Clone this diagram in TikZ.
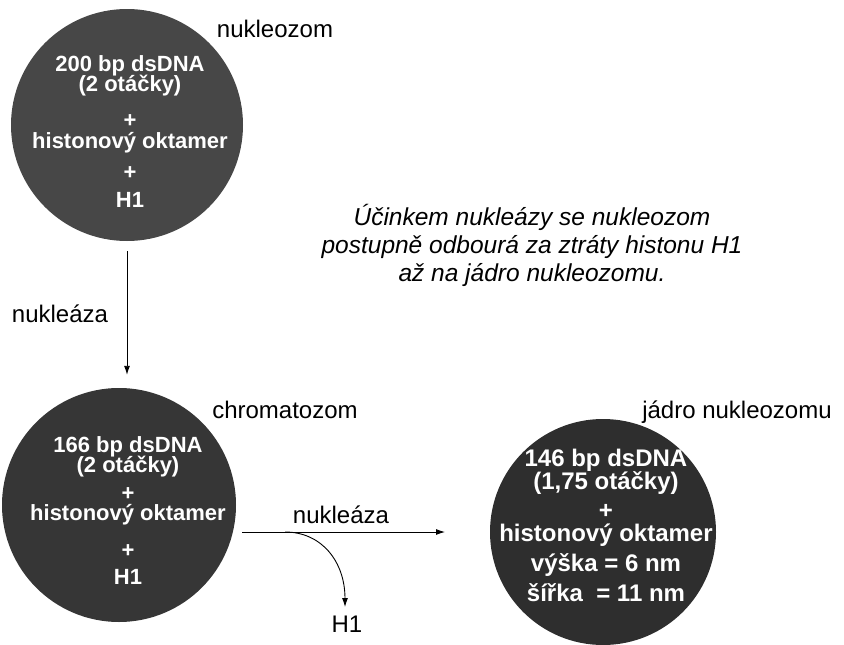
\documentclass[tikz,border=0pt]{standalone}
\usepackage{fontspec}
\setmainfont{Liberation Sans}
\usetikzlibrary{arrows.meta}

\definecolor{discone}{HTML}{474747}
\definecolor{disctwo}{HTML}{363636}
\definecolor{discthree}{HTML}{2E2E2E}

\begin{document}
\begin{tikzpicture}[x=1pt,y=-1pt,
  disc/.style={circle, draw=none, inner sep=0pt, minimum size=#1},
  intext/.style={text=white, align=center, inner sep=0pt, anchor=north,
                 font=\bfseries\fontsize{22}{22}\selectfont},
  bigtext/.style={intext, font=\bfseries\fontsize{24}{24}\selectfont},
  lbl/.style={font=\fontsize{24}{24}\selectfont, inner sep=0pt, anchor=base},
  note/.style={font=\itshape\fontsize{24.5}{28}\selectfont, align=center,
               inner sep=0pt, anchor=north},
  arr/.style={line width=0.9pt, -{Latex[length=9pt,width=6pt]}},
]
\useasboundingbox (0,0) rectangle (844,645);

% nucleosome
\node[disc=232pt, fill=discone] (c1) at (127,125) {};
\node[intext] (t1) at (130,55)
  {200 bp dsDNA\\[-2pt](2 otáčky)\\[14pt]+\\[-1pt]histonový oktamer\\[9pt]+\\[6pt]H1};
\node[lbl] (n1) at (275,37) {nukleozom};

% chromatosome
\node[disc=234pt, fill=disctwo] (c2) at (119,505) {};
\node[intext] (t2) at (128,436)
  {166 bp dsDNA\\[-2pt](2 otáčky)\\[6pt]+\\[-2pt]histonový oktamer\\[15pt]+\\[5pt]H1};
\node[lbl] (n2) at (285,418) {chromatozom};

% nucleosome core
\node[disc=226pt, fill=discthree] (c3) at (603,532) {};
\node[bigtext] (t3) at (606,449)
  {146 bp dsDNA\\[-1pt](1,75 otáčky)\\[5pt]+\\[-1pt]histonový oktamer\\[6pt]výška = 6 nm\\[6pt]šířka~ = 11 nm};
\node[lbl] (n3) at (737,418) {jádro nukleozomu};

% explanatory note
\node[note] (nt) at (532,204)
  {Účinkem nukleázy se nukleozom\\postupně odbourá za ztráty histonu H1\\až na jádro nukleozomu.};

% first digestion step
\draw[arr, shorten <=10pt, shorten >=13pt] (c1.south) -- (c1.south |- c2.north);
\node[lbl] (e1) at (60,322) {nukleáza};

% second digestion step with release of H1
\coordinate (hs) at (242,532);
\coordinate (he) at (445,532);
\coordinate (br) at (285,532);
\coordinate (htip) at (345,607);
\draw[arr] (hs) -- (he);
\node[lbl] (e2) at (341,523) {nukleáza};
\draw[arr] (br) .. controls (322,532) and (345,562) .. (htip);
\node[lbl] (h1) at (347,632) {H1};
\end{tikzpicture}
\end{document}
